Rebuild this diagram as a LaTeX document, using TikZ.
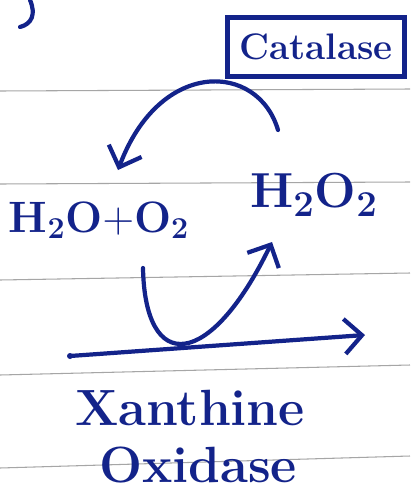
\documentclass[tikz,border=0pt]{standalone}
\usepackage{tikz}
\usetikzlibrary{arrows.meta, positioning}
\definecolor{ink}{HTML}{13238A}

\begin{document}
\begin{tikzpicture}[
    x=0.2mm, y=-0.2mm,
    % Styles
    rule/.style={gray!70, line width=0.6pt},
    pen/.style={ink, line width=2.4pt, line cap=round, line join=round},
    arrow/.style={pen, -{Straight Barb[length=3.5mm, width=7mm, line width=2.4pt]}},
    chem/.style={ink, font=\fontsize{28}{28}\selectfont\bfseries, inner sep=0pt},
    word/.style={ink, font=\fontsize{29}{29}\selectfont\bfseries, inner sep=0pt},
    enzyme/.style={draw=ink, line width=2.4pt, text=ink, font=\fontsize{21}{21}\selectfont\bfseries, minimum width=3.54cm, minimum height=1.18cm, inner sep=0pt},
]
\useasboundingbox[fill=white] (0,0) rectangle (410,497);

% === Ruled paper ===
\foreach \yl/\yr in {91/89, 184/182, 280/273, 375/365, 468/456}
  \draw[rule] (0,\yl) -- (410,\yr);

% stray mark from the line above
\draw[pen] (30,0) .. controls (36,14) and (32,24) .. (20,27);

% === Labels ===
\node[enzyme] (catalase) at (316,47) {Catalase};
\node[chem] (h2o2) at (314,195) {H$_\mathbf{2}$O$_\mathbf{2}$};
\node[chem, font=\fontsize{25}{25}\selectfont\bfseries] (water) at (99,220) {H$_\mathbf{2}$O$+$O$_\mathbf{2}$};
\node[word] (xanthine) at (190,408) {Xanthine};
\node[word] (oxidase) at (198,465) {Oxidase};

% === Arrows ===
\coordinate (upstart) at (278,130);
\coordinate (upend) at (118,170);
\draw[arrow] (upstart) .. controls (258,62) and (160,58) .. (upend);

\coordinate (lowstart) at (143,268);
\coordinate (lowend) at (272,242);
\draw[arrow] (lowstart) .. controls (145,375) and (210,370) .. (lowend);

\coordinate (axisstart) at (70,356);
\coordinate (axisend) at (365,335);
\fill[ink] (axisstart) circle (3);
\draw[arrow] (axisstart) -- (axisend);

\end{tikzpicture}
\end{document}
